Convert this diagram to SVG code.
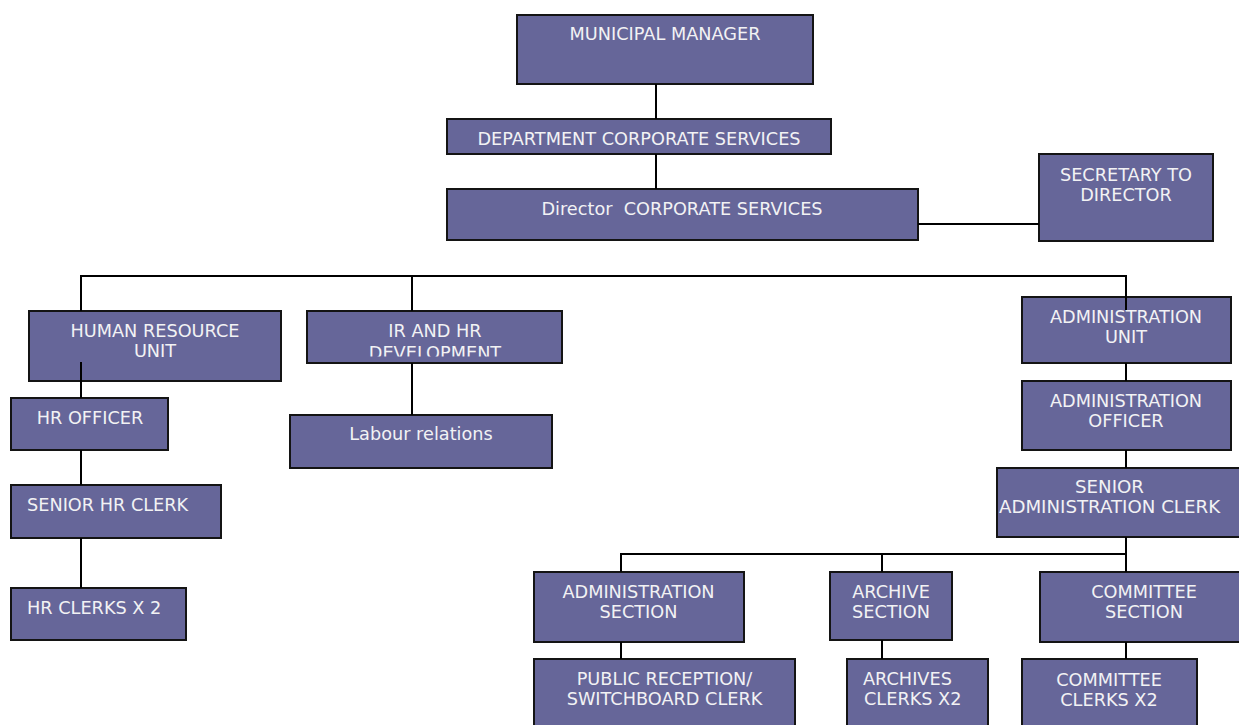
<svg xmlns="http://www.w3.org/2000/svg" width="1239" height="725" viewBox="0 0 1239 725">
  <defs>
    <style>
      .box { fill: #666699; stroke: #141414; stroke-width: 2; }
      .lbl { font-family: "DejaVu Sans", Verdana, sans-serif; font-size: 17.7px; fill: #f2f2f4; text-anchor: middle; }
      .left { text-anchor: start; }
      .conn { fill: none; stroke: #000; stroke-width: 2; }
    </style>
    <!-- the second line of the IR box is cut off at the inner bottom edge -->
    <clipPath id="irClip">
      <rect x="307" y="311" width="255" height="45.5"/>
    </clipPath>
  </defs>
  <rect width="1239" height="725" fill="#fff"/>

  <g id="municipal-manager">
    <rect class="box" x="517" y="15" width="296" height="69"/>
    <text class="lbl" x="665" y="40">MUNICIPAL MANAGER</text>
  </g>
  <g id="department-corporate-services">
    <rect class="box" x="447" y="119" width="384" height="35"/>
    <text class="lbl" x="639" y="145">DEPARTMENT CORPORATE SERVICES</text>
  </g>
  <g id="director-corporate-services">
    <rect class="box" x="447" y="189" width="471" height="51"/>
    <text class="lbl" x="682" y="215" xml:space="preserve">Director  CORPORATE SERVICES</text>
  </g>
  <g id="secretary-to-director">
    <rect class="box" x="1039" y="154" width="174" height="87"/>
    <text class="lbl" x="1126" y="181">SECRETARY TO</text>
    <text class="lbl" x="1126" y="201">DIRECTOR</text>
  </g>

  <g id="human-resource-unit">
    <rect class="box" x="29" y="311" width="252" height="70"/>
    <text class="lbl" x="155" y="337">HUMAN RESOURCE</text>
    <text class="lbl" x="155" y="357">UNIT</text>
  </g>
  <g id="ir-hr-development">
    <rect class="box" x="307" y="311" width="255" height="52"/>
    <g clip-path="url(#irClip)">
      <text class="lbl" x="435" y="337">IR AND HR</text>
      <text class="lbl" x="435" y="359">DEVELOPMENT</text>
    </g>
  </g>
  <g id="labour-relations">
    <rect class="box" x="290" y="415" width="262" height="53"/>
    <text class="lbl" x="421" y="440">Labour relations</text>
  </g>
  <g id="hr-officer">
    <rect class="box" x="11" y="398" width="157" height="52"/>
    <text class="lbl" x="90" y="424">HR OFFICER</text>
  </g>
  <g id="senior-hr-clerk">
    <rect class="box" x="11" y="485" width="210" height="53"/>
    <text class="lbl left" x="27" y="511">SENIOR HR CLERK</text>
  </g>
  <g id="hr-clerks">
    <rect class="box" x="11" y="588" width="175" height="52"/>
    <text class="lbl left" x="27" y="614">HR CLERKS X 2</text>
  </g>

  <g id="administration-unit">
    <rect class="box" x="1022" y="297" width="209" height="66"/>
    <text class="lbl" x="1126" y="323">ADMINISTRATION</text>
    <text class="lbl" x="1126" y="343">UNIT</text>
  </g>
  <g id="administration-officer">
    <rect class="box" x="1022" y="381" width="209" height="69"/>
    <text class="lbl" x="1126" y="407">ADMINISTRATION</text>
    <text class="lbl" x="1126" y="427">OFFICER</text>
  </g>
  <g id="senior-administration-clerk">
    <rect class="box" x="997" y="468" width="250" height="69"/>
    <text class="lbl" x="1109.5" y="493" style="font-size:18.2px">SENIOR</text>
    <text class="lbl" x="1109.5" y="513" style="font-size:18.2px">ADMINISTRATION CLERK</text>
  </g>

  <g id="administration-section">
    <rect class="box" x="534" y="572" width="210" height="70"/>
    <text class="lbl" x="638.5" y="598">ADMINISTRATION</text>
    <text class="lbl" x="638.5" y="618">SECTION</text>
  </g>
  <g id="archive-section">
    <rect class="box" x="830" y="572" width="122" height="68"/>
    <text class="lbl" x="891" y="598">ARCHIVE</text>
    <text class="lbl" x="891" y="618">SECTION</text>
  </g>
  <g id="committee-section">
    <rect class="box" x="1040" y="572" width="210" height="70"/>
    <text class="lbl" x="1144" y="597.5">COMMITTEE</text>
    <text class="lbl" x="1144" y="617.5">SECTION</text>
  </g>
  <g id="public-reception-clerk">
    <rect class="box" x="534" y="659" width="261" height="80"/>
    <text class="lbl" x="664.5" y="685">PUBLIC RECEPTION/</text>
    <text class="lbl" x="664.5" y="705">SWITCHBOARD CLERK</text>
  </g>
  <g id="archives-clerks">
    <rect class="box" x="847" y="659" width="141" height="80"/>
    <text class="lbl left" x="863" y="685">ARCHIVES</text>
    <text class="lbl left" x="864" y="705">CLERKS X2</text>
  </g>
  <g id="committee-clerks">
    <rect class="box" x="1022" y="659" width="175" height="80"/>
    <text class="lbl" x="1109" y="686">COMMITTEE</text>
    <text class="lbl" x="1109" y="706">CLERKS X2</text>
  </g>

  <g id="connectors" class="conn">
    <path d="M656,84 V119"/>
    <path d="M656,154 V189"/>
    <path d="M918,224 H1039"/>
    <path d="M81,276 H1126"/>
    <path d="M81,275 V311"/>
    <path d="M412,275 V311"/>
    <path d="M1126,275 V310"/>
    <path d="M81,362 V398"/>
    <path d="M412,363 V415"/>
    <path d="M81,450 V485"/>
    <path d="M81,538 V588"/>
    <path d="M1126,363 V381"/>
    <path d="M1126,450 V468"/>
    <path d="M1126,537 V572"/>
    <path d="M621,554 H1126"/>
    <path d="M621,553 V572"/>
    <path d="M882,553 V572"/>
    <path d="M621,642 V659"/>
    <path d="M882,640 V659"/>
    <path d="M1126,642 V659"/>
  </g>
</svg>
